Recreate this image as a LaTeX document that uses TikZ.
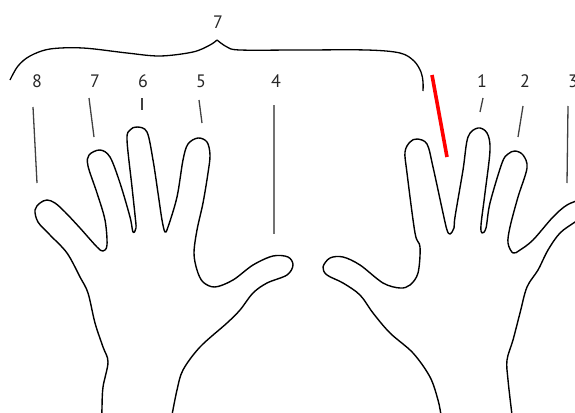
\documentclass[tikz,border=0pt]{standalone}
\usepackage{fontspec}
\setmainfont{PT Sans}
\begin{document}
\begin{tikzpicture}[x=1pt,y=-1pt,
  hand/.style={draw=black,line width=1.4pt,line join=round},
  ptr/.style={draw=black!75,line width=1.3pt},
  lbl/.style={font=\fontsize{18}{18}\selectfont,inner sep=0pt,text=black!85},
  brace/.style={draw=black,line width=1.3pt}]
\useasboundingbox (0,0) rectangle (575,412);
\clip (0,0) rectangle (575,412);
% left hand
\draw[hand] plot[smooth,tension=0.55] coordinates {
 (102,415) (102,407) (103,387) (108,362) (103,347) (95,323) (88,293) (80,277) (67,253)
 (50,235) (38,222) (35,210) (40,203) (47,200) (55,203) (65,212) (80,228) (97,247) (103,251) (107,245)
 (105,220) (97,193) (88,166) (89,155) (100,150) (110,157) (120,183) (130,217) (133,232) (136,228)
 (135,215) (132,187) (127,140) (130,130) (137,127) (147,132) (153,160) (158,193) (162,220) (165,232) (168,227)
 (177,197) (183,160) (188,144) (198,138) (207,142) (210,155) (208,173) (203,203) (197,230) (194,253) (197,270)
 (203,282) (215,287) (233,280) (253,265) (273,256) (288,257) (293,265) (287,275) (267,283) (253,293)
 (240,310) (227,323) (200,347) (183,370) (177,390) (172,415)};
% right hand
\draw[hand] plot[smooth,tension=0.55] coordinates {
 (441,415) (438,400) (430,377) (413,353) (390,333) (373,313) (360,295) (343,283) (327,275) (323,267)
 (330,258) (343,257) (360,265) (383,283) (400,288) (410,285) (418,273) (420,247) (415,233) (407,173)
 (405,152) (410,142) (417,139) (427,144) (433,167) (443,213) (447,230) (450,234) (454,228)
 (455,217) (463,170) (468,137) (478,128) (487,133) (490,150) (485,193) (481,225) (482,233) (486,228)
 (490,203) (502,163) (508,154) (515,151) (523,155) (527,168) (518,197) (510,227) (508,243) (513,253)
 (520,250) (533,240) (553,217) (567,205) (582,199)};
\draw[hand] plot[smooth,tension=0.55] coordinates {
 (582,217) (575,222) (560,233) (548,250) (538,270) (527,287) (520,313) (513,340) (507,360) (508,380) (512,415)};
% brace
\draw[brace] plot[smooth,tension=0.55] coordinates {
 (10,80) (18,66) (30,56) (50,49) (83,48) (127,53) (160,56) (193,52) (210,45) (217,40)};
\draw[brace] plot[smooth,tension=0.55] coordinates {
 (217,40) (227,47) (240,50) (300,50) (367,50) (400,53) (414,61) (421,72) (423,82) (423,91)};
% labels
\node[lbl] (t7) at (218,22) {7};
\node[lbl] (n8) at (37,81) {8};
\node[lbl] (n7) at (95,81) {7};
\node[lbl] (n6) at (143,81) {6};
\node[lbl] (n5) at (201,81) {5};
\node[lbl] (n4) at (276,81) {4};
\node[lbl] (n1) at (482,81) {1};
\node[lbl] (n2) at (525,81) {2};
\node[lbl] (n3) at (573,81) {3};
% pointer lines
\coordinate (a8) at (33,107); \coordinate (b8) at (37,183);
\coordinate (a7) at (89,98);  \coordinate (b7) at (94,137);
\coordinate (a6) at (142,98); \coordinate (b6) at (142,110);
\coordinate (a5) at (199,100); \coordinate (b5) at (202,123);
\coordinate (a4) at (274,105); \coordinate (b4) at (274,234);
\coordinate (a1) at (483,98); \coordinate (b1) at (480,112);
\coordinate (a2) at (523,106); \coordinate (b2) at (518,137);
\coordinate (a3) at (568,106); \coordinate (b3) at (567,183);
\draw[ptr] (a8) -- (b8);
\draw[ptr] (a7) -- (b7);
\draw[ptr] (a6) -- (b6);
\draw[ptr] (a5) -- (b5);
\draw[ptr,draw=black!55,line width=1.9pt] (a4) -- (b4);
\draw[ptr] (a1) -- (b1);
\draw[ptr] (a2) -- (b2);
\draw[ptr] (a3) -- (b3);
% red marker
\coordinate (ra) at (432,75); \coordinate (rb) at (447,157);
\draw[red,line width=3.6pt] (ra) -- (rb);
\end{tikzpicture}
\end{document}
